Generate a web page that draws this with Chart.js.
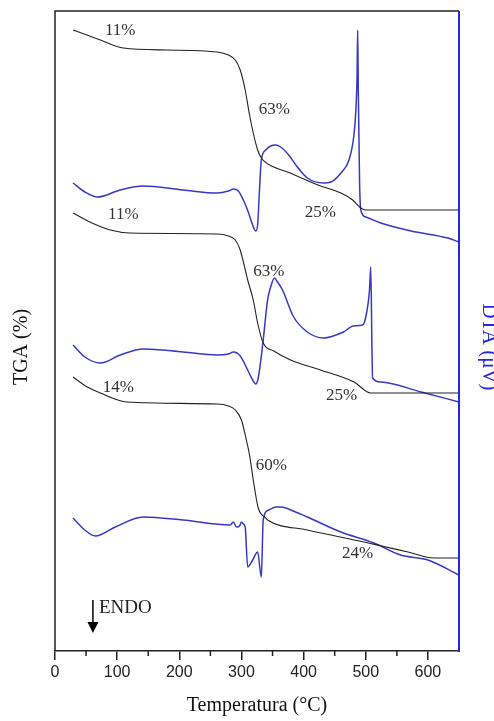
<!DOCTYPE html>
<html>
<head>
<meta charset="utf-8">
<script src="https://cdn.jsdelivr.net/npm/chart.js@4.4.1/dist/chart.umd.min.js"></script>
<style>
html,body{margin:0;padding:0;background:#fff;}
#wrap{width:494px;height:721px;position:relative;}
</style>
</head>
<body>
<div id="wrap"><canvas id="c" width="494" height="721"></canvas></div>
<script>
// ---- Data (temperature in °C, signal in arbitrary stacked units) ----
const tgaA_T = [29,73,110,181,261,279,290,298,306,313,319,326,332,352,374,423,460,479,492,500,650];
const tgaA_V = [621,611,603,601,599,596,591,581,561,536,518,501,493,484,479,466,458,451,443,441,441];

const dtaA_T = [29,48,68,105,142,206,261,279,287,295,303,311,318,323,326,329,332,339,347,355,363,376,390,406,432,444,460,473,481,484,486,487,488,490,492,500,524,573,632,650];
const dtaA_V = [468,459,454,461,465,461,458,460,462,460,451,439,426,420,426,461,491,501,505,506,504,496,484,473,468,469,478,491,516,540,575,621,560,470,441,434,428,420,413,409];

const tgaB_T = [29,56,89,121,261,279,290,298,310,319,326,335,352,379,427,481,508,650];
const tgaB_V = [438,429,421,418,417,415,411,401,371,351,328,308,300,291,281,269,258,258];

const dtaB_T = [29,48,73,105,142,206,261,279,287,298,310,318,323,327,335,342,347,353,358,366,384,406,432,464,480,495,500,506,508,510,511,524,589,650];
const dtaB_V = [306,294,288,296,302,299,296,297,299,295,281,271,267,273,311,351,364,373,369,361,334,319,313,319,325,326,334,361,384,301,273,269,259,249];

const tgaC_T = [29,52,73,116,261,279,290,300,306,313,319,327,339,342,406,497,568,610,621,650];
const tgaC_V = [274,264,258,249,247,245,241,231,216,196,171,143,133,131,121,109,99,93,93,93];

const dtaC_T = [29,48,65,97,142,206,282,287,292,297,300,303,306,310,318,326,332,335,344,355,363,387,406,460,513,556,600,650];
const dtaC_V = [133,121,115,124,134,131,126,129,124,125,129,127,124,84,91,99,74,131,141,144,144,139,134,119,108,96,91,76];

const xTicks = [0,100,200,300,400,500,600];
const xMinorTicks = [50,150,250,350,450,550];

const annoText = ['11%','63%','25%','11%','63%','25%','14%','60%','24%'];
const annoX    = [105,353,427,110,344,461,102,348,487];
const annoY    = [620,541,438,436,379,255,263,185,97];

const xTitle = 'Temperatura (°C)';
const yTitleLeft = 'TGA (%)';
const yTitleRight = 'DTA (μV)';
const endoLabel = 'ENDO';

// ---- Build ----
const BLACK = '#222222';
const BLUE = '#3838c4';
const AXISBLUE = '#2626e0';
function pts(T, V){ return T.map((t,i)=>({x:t, y:V[i]})); }
function ds(T,V,color,w){
  return {data:pts(T,V), borderColor:color, borderWidth:w, pointRadius:0, fill:false,
          cubicInterpolationMode:'monotone', tension:0.4};
}

const framePlugin = {
  id:'frame',
  afterDraw(chart){
    const ctx = chart.ctx, a = chart.chartArea;
    const xs = chart.scales.x, ys = chart.scales.y;
    ctx.save();
    // top and left black frame
    ctx.strokeStyle = BLACK; ctx.lineWidth = 1.5;
    ctx.beginPath();
    ctx.moveTo(a.left, a.bottom); ctx.lineTo(a.left, a.top); ctx.lineTo(a.right, a.top);
    ctx.stroke();
    // right blue axis
    ctx.strokeStyle = AXISBLUE; ctx.lineWidth = 2;
    ctx.beginPath(); ctx.moveTo(a.right, a.top); ctx.lineTo(a.right, a.bottom+1); ctx.stroke();
    // minor ticks
    ctx.strokeStyle = BLACK; ctx.lineWidth = 1.5;
    xMinorTicks.forEach(v=>{
      const px = xs.getPixelForValue(v);
      ctx.beginPath(); ctx.moveTo(px, a.bottom); ctx.lineTo(px, a.bottom+5); ctx.stroke();
    });
    // annotations
    ctx.fillStyle = '#333';
    ctx.font = '17px "Liberation Serif"';
    ctx.textAlign = 'center'; ctx.textBaseline = 'middle';
    annoText.forEach((t,i)=>{
      ctx.fillText(t, xs.getPixelForValue(annoX[i]), ys.getPixelForValue(annoY[i]));
    });
    // ENDO arrow
    const ax = xs.getPixelForValue(61);
    const aTop = ys.getPixelForValue(51), aBot = ys.getPixelForValue(18);
    ctx.strokeStyle = '#000'; ctx.lineWidth = 1.5;
    ctx.beginPath(); ctx.moveTo(ax, aTop); ctx.lineTo(ax, aBot-9); ctx.stroke();
    ctx.fillStyle = '#000';
    ctx.beginPath(); ctx.moveTo(ax-5.5, aBot-11); ctx.lineTo(ax+5.5, aBot-11); ctx.lineTo(ax, aBot); ctx.closePath(); ctx.fill();
    ctx.fillStyle = '#222';
    ctx.font = '19px "Liberation Serif"';
    ctx.textAlign = 'left';
    ctx.fillText(endoLabel, ax+6, ys.getPixelForValue(43));
    // titles
    ctx.font = '20px "Liberation Serif"';
    ctx.fillStyle = '#111';
    ctx.textAlign = 'center';
    ctx.fillText(xTitle, (a.left+a.right)/2, 706);
    ctx.save();
    ctx.translate(22, 347); ctx.rotate(-Math.PI/2);
    ctx.fillText(yTitleLeft, 0, 0);
    ctx.restore();
    ctx.save();
    ctx.fillStyle = AXISBLUE;
    ctx.font = '21px "Liberation Serif"';
    ctx.translate(489, 347); ctx.rotate(Math.PI/2);
    ctx.fillText(yTitleRight, 0, 0);
    ctx.restore();
    ctx.restore();
  }
};

new Chart(document.getElementById('c'), {
  type:'line',
  data:{datasets:[
    ds(tgaA_T,tgaA_V,BLACK,1.1),
    ds(tgaB_T,tgaB_V,BLACK,1.1),
    ds(tgaC_T,tgaC_V,BLACK,1.1),
    ds(dtaA_T,dtaA_V,BLUE,1.5),
    ds(dtaB_T,dtaB_V,BLUE,1.5),
    ds(dtaC_T,dtaC_V,BLUE,1.5)
  ]},
  options:{
    responsive:false, animation:false, devicePixelRatio:1,
    layout:{padding:{left:55,right:35,top:11,bottom:0}},
    plugins:{legend:{display:false}, tooltip:{enabled:false}},
    scales:{
      x:{type:'linear', min:0, max:650, position:'bottom',
         afterBuildTicks:s=>{ s.ticks = xTicks.map(v=>({value:v})); },
         afterFit:s=>{ s.height = 70; },
         ticks:{font:{family:'"Liberation Sans"', size:16}, color:'#222', padding:3, maxRotation:0},
         grid:{drawOnChartArea:false, drawTicks:true, tickLength:9, color:BLACK, lineWidth:1.5},
         border:{display:true, color:BLACK, width:1.5}},
      y:{type:'linear', min:0, max:640, display:false}
    }
  },
  plugins:[framePlugin]
});
</script>
</body>
</html>
